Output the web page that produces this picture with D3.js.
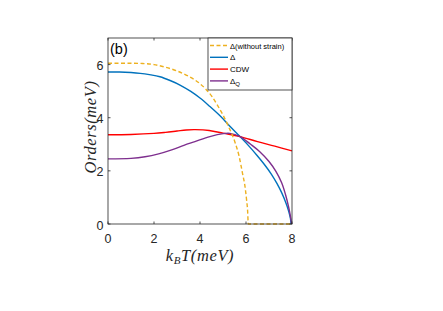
<!DOCTYPE html>
<html>
<head>
<meta charset="utf-8">
<script src="https://cdn.jsdelivr.net/npm/d3@7"></script>
<style>
body { margin: 0; background: #fff; }
text { font-family: "Liberation Sans", Arial, sans-serif; }
.math { font-family: "Liberation Serif", "Times New Roman", serif; font-style: italic; }
</style>
</head>
<body>
<div id="chart"></div>
<script>
let width = 443;
let height = 311;

// values
let xTicks = [0, 2, 4, 6, 8];
let yTicks = [0, 2, 4, 6];

let noStrainT = [0, 1, 1.5, 2, 2.5, 3, 3.5, 4, 4.5, 4.75, 5, 5.25, 5.5, 5.7, 5.85, 5.95, 6.02, 6.07, 6.1, 6.5, 7, 7.5, 8];
let noStrainV = [6.05, 6.05, 6.04, 6.0, 5.9, 5.76, 5.56, 5.28, 4.82, 4.48, 4.1, 3.65, 3.13, 2.55, 1.9, 1.45, 0.95, 0.5, 0, 0, 0, 0, 0];

let deltaT = [0, 0.5, 1, 1.4, 1.8, 2.26, 2.7, 3.13, 3.6, 4, 4.43, 4.87, 5.3, 5.74, 6.1, 6.5, 6.8, 7.1, 7.35, 7.55, 7.72, 7.85, 7.93, 7.96];
let deltaV = [5.72, 5.72, 5.7, 5.67, 5.62, 5.54, 5.4, 5.23, 4.99, 4.74, 4.42, 4.07, 3.68, 3.29, 2.96, 2.56, 2.24, 1.88, 1.52, 1.18, 0.83, 0.5, 0.22, 0];

let cdwT = [0, 1, 2, 2.5, 3, 3.4, 3.8, 4.4, 5, 5.74, 6.5, 7.25, 8];
let cdwV = [3.36, 3.37, 3.41, 3.45, 3.5, 3.54, 3.55, 3.52, 3.42, 3.29, 3.1, 2.93, 2.75];

let dqT = [0, 1, 1.61, 2.2, 2.77, 3.3, 3.78, 4.43, 5.01, 5.3, 5.74, 6.2, 6.6, 7.0, 7.3, 7.55, 7.72, 7.85, 7.93, 7.98];
let dqV = [2.45, 2.47, 2.53, 2.64, 2.79, 2.96, 3.1, 3.29, 3.4, 3.41, 3.29, 3.0, 2.72, 2.35, 1.98, 1.55, 1.1, 0.65, 0.3, 0];

let seriesNames = ["\u0394(without strain)", "\u0394", "CDW", "\u0394"];
let seriesColors = ["#EDB120", "#0072BD", "#FF0000", "#7E2F8E"];

let svg = d3.select("div#chart").append("svg")
    .attr("width", width)
    .attr("height", height);

let pLeft = 108, pRight = 292, pTop = 38, pBottom = 224;

let x = d3.scaleLinear().domain([0, 8]).range([pLeft, pRight]);
let y = d3.scaleLinear().domain([0, 7]).range([pBottom, pTop]);

let smoothLine = d3.line()
    .x(d => x(d[0]))
    .y(d => y(d[1]))
    .curve(d3.curveCatmullRom.alpha(0.5));

// the dashed curve has a corner at Tc, keep it monotone
let cornerLine = d3.line()
    .x(d => x(d[0]))
    .y(d => y(d[1]))
    .curve(d3.curveMonotoneX);

let zip = (a, b) => a.map((v, i) => [v, b[i]]);
let series = [zip(noStrainT, noStrainV), zip(deltaT, deltaV), zip(cdwT, cdwV), zip(dqT, dqV)];

// lines, the dashed one drawn last
let order = [1, 2, 3, 0];
order.forEach(i => {
    svg.append("path")
        .datum(series[i])
        .attr("d", i === 0 ? cornerLine : smoothLine)
        .attr("fill", "none")
        .attr("stroke", seriesColors[i])
        .attr("stroke-width", 1.4)
        .attr("stroke-dasharray", i === 0 ? "4,2.5" : null);
});

// box
svg.append("rect")
    .attr("x", pLeft).attr("y", pTop)
    .attr("width", pRight - pLeft).attr("height", pBottom - pTop)
    .attr("fill", "none").attr("stroke", "#262626").attr("stroke-width", 0.8);

// ticks
xTicks.forEach(t => {
    svg.append("line").attr("x1", x(t)).attr("x2", x(t)).attr("y1", pBottom).attr("y2", pBottom - 2.5)
        .attr("stroke", "#262626").attr("stroke-width", 0.8);
    svg.append("line").attr("x1", x(t)).attr("x2", x(t)).attr("y1", pTop).attr("y2", pTop + 2.5)
        .attr("stroke", "#262626").attr("stroke-width", 0.8);
    svg.append("text").attr("x", x(t)).attr("y", pBottom + 19)
        .attr("text-anchor", "middle").attr("font-size", 12.5).attr("fill", "#262626")
        .text(t);
});
yTicks.forEach(t => {
    svg.append("line").attr("x1", pLeft).attr("x2", pLeft + 2.5).attr("y1", y(t)).attr("y2", y(t))
        .attr("stroke", "#262626").attr("stroke-width", 0.8);
    svg.append("line").attr("x1", pRight).attr("x2", pRight - 2.5).attr("y1", y(t)).attr("y2", y(t))
        .attr("stroke", "#262626").attr("stroke-width", 0.8);
    svg.append("text").attr("x", pLeft - 4.5).attr("y", y(t) + 5.5)
        .attr("text-anchor", "end").attr("font-size", 12.5).attr("fill", "#262626")
        .text(t);
});

// axis labels
let xl = svg.append("text").attr("class", "math")
    .attr("x", (pLeft + pRight) / 2).attr("y", 261)
    .attr("text-anchor", "middle").attr("font-size", 16.5).attr("fill", "#262626")
    .attr("letter-spacing", 0.6);
xl.append("tspan").text("k");
xl.append("tspan").attr("font-size", 11).attr("dy", 3).text("B");
xl.append("tspan").attr("dy", -3).text("T(meV)");

svg.append("text").attr("class", "math")
    .attr("transform", "translate(96,127) rotate(-90)")
    .attr("text-anchor", "middle").attr("font-size", 16.5).attr("fill", "#262626")
    .attr("letter-spacing", 0.6)
    .text("Orders(meV)");

// panel tag
svg.append("text").attr("x", pLeft + 2).attr("y", pTop + 16)
    .attr("font-size", 14.5).attr("fill", "#000").text("(b)");

// legend
let lgX = 208, lgY = 38, lgW = 84, lgH = 52;
svg.append("rect").attr("x", lgX).attr("y", lgY).attr("width", lgW).attr("height", lgH)
    .attr("fill", "#fff").attr("stroke", "#262626").attr("stroke-width", 0.8);

seriesNames.forEach((name, i) => {
    let ly = 45.5 + i * 11.8;
    svg.append("line").attr("x1", lgX + 2).attr("x2", lgX + 20).attr("y1", ly).attr("y2", ly)
        .attr("stroke", seriesColors[i]).attr("stroke-width", 1.4)
        .attr("stroke-dasharray", i === 0 ? "4,2.5" : null);
    let t = svg.append("text").attr("x", lgX + 22).attr("y", ly + 3)
        .attr("font-size", i === 0 ? 7.5 : 8).attr("fill", "#000");
    t.append("tspan").text(name);
    if (i === 3) {
        t.append("tspan").attr("font-size", 6).attr("dy", 2.5).text("Q");
    }
});
</script>
</body>
</html>
